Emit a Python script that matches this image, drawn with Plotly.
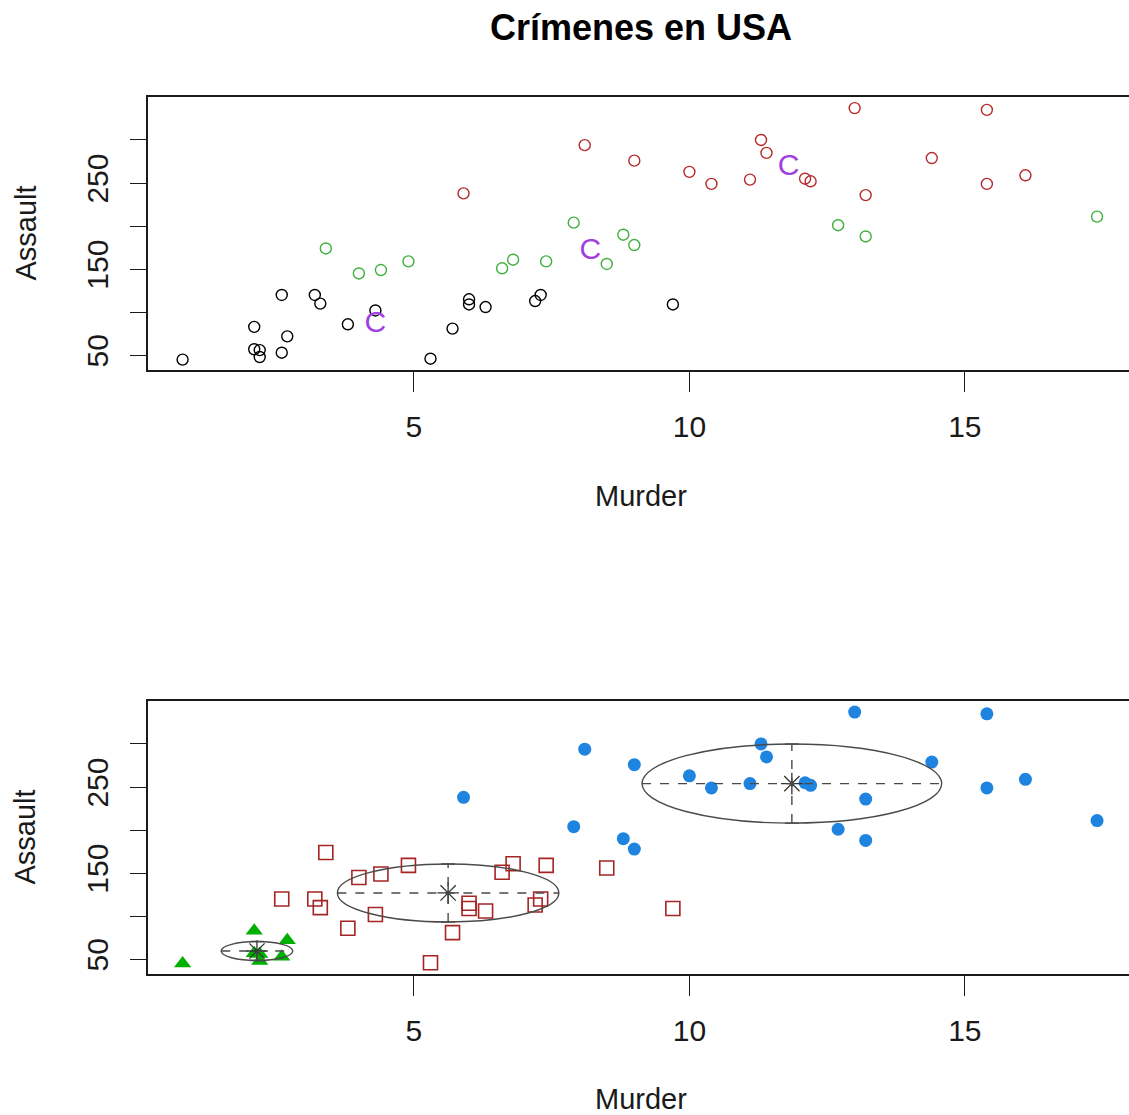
import plotly.graph_objects as go

# USArrests: murder and assault rates by state
states = ["Alabama", "Alaska", "Arizona", "Arkansas", "California", "Colorado",
          "Connecticut", "Delaware", "Florida", "Georgia", "Hawaii", "Idaho",
          "Illinois", "Indiana", "Iowa", "Kansas", "Kentucky", "Louisiana",
          "Maine", "Maryland", "Massachusetts", "Michigan", "Minnesota",
          "Mississippi", "Missouri", "Montana", "Nebraska", "Nevada",
          "New Hampshire", "New Jersey", "New Mexico", "New York",
          "North Carolina", "North Dakota", "Ohio", "Oklahoma", "Oregon",
          "Pennsylvania", "Rhode Island", "South Carolina", "South Dakota",
          "Tennessee", "Texas", "Utah", "Vermont", "Virginia", "Washington",
          "West Virginia", "Wisconsin", "Wyoming"]
murder = [13.2, 10.0, 8.1, 8.8, 9.0, 7.9, 3.3, 5.9, 15.4, 17.4, 5.3, 2.6,
          10.4, 7.2, 2.2, 6.0, 9.7, 15.4, 2.1, 11.3, 4.4, 12.1, 2.7, 16.1,
          9.0, 6.0, 4.3, 12.2, 2.1, 7.4, 11.4, 11.1, 13.0, 0.8, 7.3, 6.6,
          4.9, 6.3, 3.4, 14.4, 3.8, 13.2, 12.7, 3.2, 2.2, 8.5, 4.0, 5.7,
          2.6, 6.8]
assault = [236, 263, 294, 190, 276, 204, 110, 238, 335, 211, 46, 120,
           249, 113, 56, 115, 109, 249, 83, 300, 149, 255, 72, 259,
           178, 109, 102, 252, 57, 159, 285, 254, 337, 45, 120, 151,
           159, 106, 174, 279, 86, 188, 201, 120, 48, 156, 145, 81,
           53, 161]

# k-means cluster (1 = low, 2 = medium, 3 = high)
kmeans_cluster = [3, 3, 3, 2, 3, 2, 1, 3, 3, 2, 1, 1,
                  3, 1, 1, 1, 1, 3, 1, 3, 2, 3, 1, 3,
                  2, 1, 1, 3, 1, 2, 3, 3, 3, 1, 1, 2,
                  2, 1, 2, 3, 1, 2, 2, 1, 1, 2, 2, 1,
                  1, 2]
kmeans_center_murder = [4.3, 8.2, 11.8]
kmeans_center_assault = [86, 170, 268]

# model-based groups (1 = triangles, 2 = squares, 3 = filled circles)
group = [3, 3, 3, 3, 3, 3, 2, 3, 3, 3, 2, 2,
         3, 2, 1, 2, 2, 3, 1, 3, 2, 3, 1, 3,
         3, 2, 2, 3, 1, 2, 3, 3, 3, 1, 2, 2,
         2, 2, 2, 3, 2, 3, 3, 2, 1, 2, 2, 2,
         1, 2]
group_center_murder = [2.15, 5.62, 11.86]
group_center_assault = [59.6, 127, 254]
group_spread_murder = [0.65, 2.01, 2.72]
group_spread_assault = [11.0, 33.7, 45.9]

x_ticks = [5, 10, 15]
y_ticks = [50, 100, 150, 200, 250, 300]
y_tick_text = ["50", "", "150", "", "250", ""]

W, H = 1129, 1115
X_RANGE = [0.172, 17.98]
Y_RANGE = [32.9, 349.9]
LEFT = 148
TOP_BOX = (97, 370)
BOT_BOX = (701, 974)
FONT = "Liberation Sans, Arial, sans-serif"
INK = "#1a1a1a"


def dom(box):
    return [1 - box[1] / H, 1 - box[0] / H]


fig = go.Figure()

# upper panel: k-means clusters as open circles
top_colors = {1: "#000000", 2: "#3DB03D", 3: "#B52A2A"}
for k in (1, 2, 3):
    xs = [m for m, c in zip(murder, kmeans_cluster) if c == k]
    ys = [a for a, c in zip(assault, kmeans_cluster) if c == k]
    fig.add_trace(go.Scatter(
        x=xs, y=ys, mode="markers", xaxis="x", yaxis="y",
        marker=dict(symbol="circle-open", size=11, color=top_colors[k],
                    line=dict(width=1.4, color=top_colors[k])),
        showlegend=False, hoverinfo="x+y"))

fig.add_trace(go.Scatter(
    x=kmeans_center_murder, y=kmeans_center_assault, mode="text",
    text=["C", "C", "C"], xaxis="x", yaxis="y",
    textfont=dict(family=FONT, size=30, color="#A040E0"),
    showlegend=False, hoverinfo="skip"))

# lower panel: groups with distinct symbols
bot_style = {
    1: dict(symbol="triangle-up", size=15, color="#00B000",
            line=dict(width=0)),
    2: dict(symbol="square-open", size=14, color="#A52424",
            line=dict(width=1.6, color="#A52424")),
    3: dict(symbol="circle", size=13, color="#1E84E0",
            line=dict(width=0)),
}
for g in (2, 3, 1):
    xs = [m for m, c in zip(murder, group) if c == g]
    ys = [a for a, c in zip(assault, group) if c == g]
    fig.add_trace(go.Scatter(
        x=xs, y=ys, mode="markers", xaxis="x2", yaxis="y2",
        marker=bot_style[g], showlegend=False, hoverinfo="x+y"))

# group ellipses with dashed axes; short caps close the vertical axis
px_x = (W - LEFT) / (X_RANGE[1] - X_RANGE[0])
cap_x = 7 / px_x
shape_line = dict(color="#4a4a4a", width=1.4)
dash_line = dict(color="#4a4a4a", width=1.4, dash="dash")
shapes = []
for cx, cy, a, b in zip(group_center_murder, group_center_assault,
                        group_spread_murder, group_spread_assault):
    shapes.append(dict(type="circle", xref="x2", yref="y2",
                       x0=cx - a, x1=cx + a, y0=cy - b, y1=cy + b,
                       line=shape_line))
    shapes.append(dict(type="line", xref="x2", yref="y2",
                       x0=cx - a, x1=cx + a, y0=cy, y1=cy, line=dash_line))
    shapes.append(dict(type="line", xref="x2", yref="y2",
                       x0=cx, x1=cx, y0=cy - b, y1=cy + b, line=dash_line))
    for yy in (cy - b, cy + b):
        shapes.append(dict(type="line", xref="x2", yref="y2",
                           x0=cx - cap_x, x1=cx + cap_x, y0=yy, y1=yy,
                           line=shape_line))

fig.add_trace(go.Scatter(
    x=group_center_murder, y=group_center_assault, mode="markers",
    xaxis="x2", yaxis="y2",
    marker=dict(symbol="asterisk-open", size=18, color="#333333",
                line=dict(width=1.3, color="#333333")),
    showlegend=False, hoverinfo="x+y"))


def xaxis_cfg(anchor):
    return dict(domain=[LEFT / W, 1], range=X_RANGE, anchor=anchor,
                tickvals=x_ticks, ticks="outside", ticklen=20, tickwidth=1.4,
                tickcolor=INK, showline=True, mirror=True, linecolor=INK,
                linewidth=1.6, showgrid=False, zeroline=False,
                tickfont=dict(family=FONT, size=30, color=INK),
                ticklabelstandoff=9)


def yaxis_cfg(anchor, box):
    return dict(domain=dom(box), range=Y_RANGE, anchor=anchor,
                tickvals=y_ticks, ticktext=y_tick_text, ticks="outside",
                ticklen=16, tickwidth=1.4, tickcolor=INK, showline=True,
                mirror=False, linecolor=INK, linewidth=1.6, showgrid=False,
                zeroline=False, tickangle=-90,
                tickfont=dict(family=FONT, size=30, color=INK),
                ticklabelstandoff=10)


annotations = [
    dict(text="<b>Crímenes en USA</b>", xref="paper", yref="paper",
         x=641 / W, y=1 - 27 / H, xanchor="center", yanchor="middle",
         showarrow=False, font=dict(family=FONT, size=36, color="#000000")),
]
for box, ty in ((TOP_BOX, 496), (BOT_BOX, 1099)):
    annotations.append(dict(
        text="Murder", xref="paper", yref="paper", x=641 / W, y=1 - ty / H,
        xanchor="center", yanchor="middle", showarrow=False,
        font=dict(family=FONT, size=29, color=INK)))
    annotations.append(dict(
        text="Assault", xref="paper", yref="paper", x=25 / W,
        y=1 - (box[0] + box[1]) / 2 / H, xanchor="center", yanchor="middle",
        textangle=-90, showarrow=False,
        font=dict(family=FONT, size=29, color=INK)))

fig.update_layout(
    width=W, height=H, margin=dict(l=0, r=0, t=0, b=0),
    paper_bgcolor="white", plot_bgcolor="white",
    xaxis=xaxis_cfg("y"), yaxis=yaxis_cfg("x", TOP_BOX),
    xaxis2=xaxis_cfg("y2"), yaxis2=yaxis_cfg("x2", BOT_BOX),
    shapes=shapes, annotations=annotations,
)

fig.write_html("out.html")
